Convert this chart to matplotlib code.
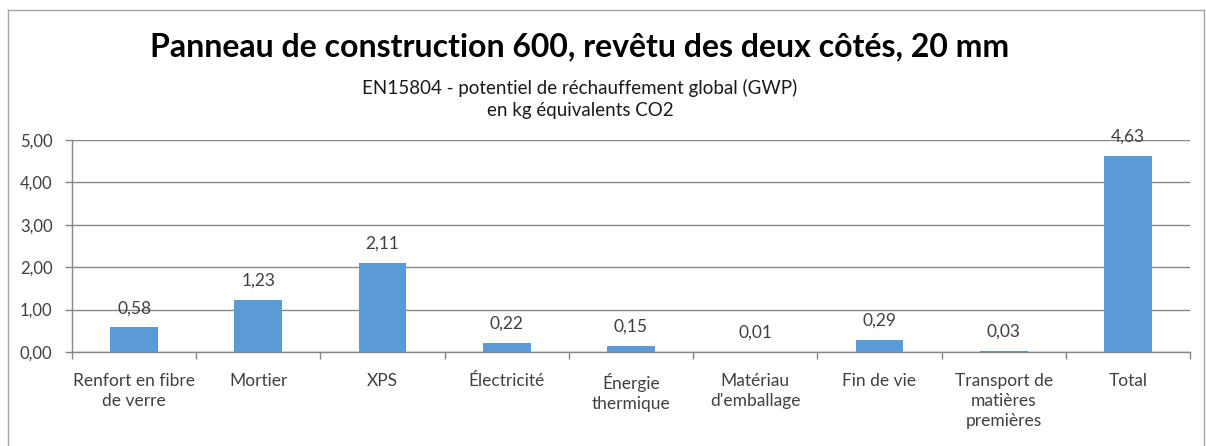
import numpy as np
import matplotlib
matplotlib.use('Agg')
import matplotlib.pyplot as plt
from matplotlib.lines import Line2D

plt.rcParams['font.family'] = ['Lato', 'DejaVu Sans']

categories = ['Renfort en fibre\nde verre', 'Mortier', 'XPS', 'Électricité',
              'Énergie\nthermique', 'Matériau\nd\'emballage', 'Fin de vie',
              'Transport de\nmatières\npremières', 'Total']
values = [0.58, 1.23, 2.11, 0.22, 0.15, 0.01, 0.29, 0.03, 4.63]
y_ticks = [0, 1, 2, 3, 4, 5]

title = 'Panneau de construction 600, revêtu des deux côtés, 20 mm'
subtitle = 'EN15804 - potentiel de réchauffement global (GWP)\nen kg équivalents CO2'

W, H = 1206, 446
fig = plt.figure(figsize=(W / 100, H / 100), dpi=100)
fig.patch.set_facecolor('white')

# chart border (Excel chart area), no bottom edge visible in the screenshot
border = '#a6a6a6'
for xs, ys in [([8 / W, 8 / W], [0, 1 - 10 / H]),
               ([8 / W, 1204 / W], [1 - 10 / H, 1 - 10 / H]),
               ([1204 / W, 1204 / W], [0, 1 - 10 / H])]:
    fig.add_artist(Line2D(xs, ys, color=border, lw=1.0, transform=fig.transFigure))

ax = fig.add_axes([72 / W, 1 - 352 / H, (1190 - 72) / W, (352 - 140) / H])

x = np.arange(len(categories))
bars = ax.bar(x, values, width=0.385, color='#5b9bd5', zorder=3)

for xi, v in zip(x, values):
    ax.annotate(f'{v:.2f}'.replace('.', ','), (xi, v), xytext=(0, 8),
                textcoords='offset points', ha='center', va='bottom',
                fontsize=12.5, color='#404040', zorder=4)

ax.set_xlim(-0.5, len(categories) - 0.5)
ax.set_ylim(0, 5)
ax.set_yticks(y_ticks)
ax.set_yticklabels([f'{t:.2f}'.replace('.', ',') for t in y_ticks])
ax.yaxis.grid(True, color='#868686', lw=1.0, zorder=0)
ax.set_axisbelow(True)

ax.set_xticks(x)
ax.set_xticklabels(categories, fontsize=12.5, color='#404040', linespacing=1.3)
ax.set_xticks(np.arange(len(categories) + 1) - 0.5, minor=True)
ax.tick_params(axis='x', which='major', length=0, pad=15)
ax.tick_params(axis='x', which='minor', length=5, color='#868686', width=1)
ax.tick_params(axis='y', length=5, color='#868686', width=1, pad=9,
               labelsize=12, labelcolor='#404040')

for side in ['top', 'right']:
    ax.spines[side].set_visible(False)
for side in ['left', 'bottom']:
    ax.spines[side].set_color('#868686')
    ax.spines[side].set_linewidth(1.0)

fig.text(580 / W, 1 - 47 / H, title, ha='center', va='center',
         fontsize=23, fontweight='bold', color='black')
fig.text(580 / W, 1 - 99 / H, subtitle, ha='center', va='center',
         fontsize=13.5, color='#1a1a1a', linespacing=1.3)

fig.savefig('out.png', dpi=100)
